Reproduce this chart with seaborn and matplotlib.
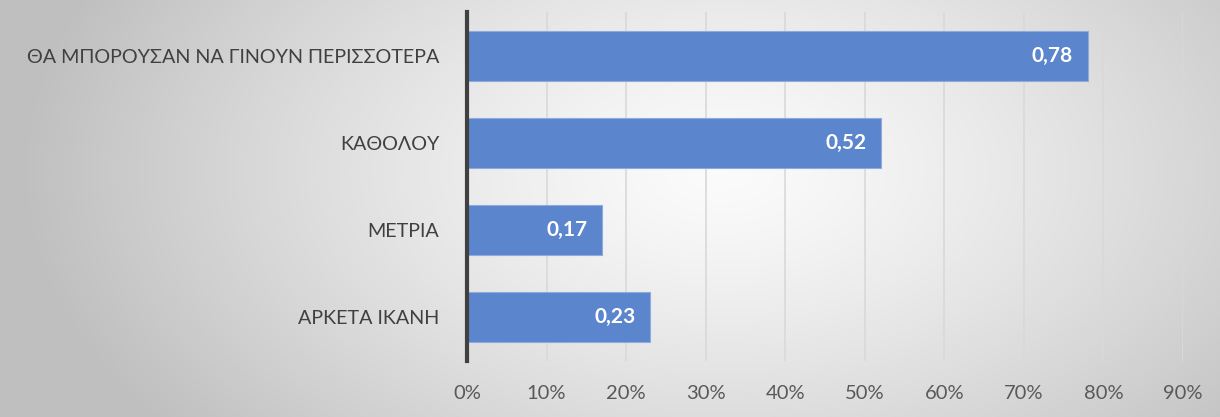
import numpy as np
import pandas as pd
import matplotlib
matplotlib.use("Agg")
import matplotlib.pyplot as plt
import seaborn as sns

categories = ["ΘΑ ΜΠΟΡΟΥΣΑΝ ΝΑ ΓΙΝΟΥΝ ΠΕΡΙΣΣΟΤΕΡΑ", "ΚΑΘΟΛΟΥ", "ΜΕΤΡΙΑ", "ΑΡΚΕΤΑ ΙΚΑΝΗ"]
values = [0.78, 0.52, 0.17, 0.23]
value_labels = ["0,78", "0,52", "0,17", "0,23"]
xticks = [0, 0.1, 0.2, 0.3, 0.4, 0.5, 0.6, 0.7, 0.8, 0.9]
xtick_labels = ["0%", "10%", "20%", "30%", "40%", "50%", "60%", "70%", "80%", "90%"]

sns.set_theme(style="white")
plt.rcParams['font.family'] = ['Lato', 'DejaVu Sans']

W, H = 1220, 417
fig = plt.figure(figsize=(W / 100, H / 100), dpi=100)

# radial gradient background
bg = fig.add_axes([0, 0, 1, 1], zorder=0)
yy, xx = np.mgrid[0:H, 0:W]
cx, cy = 720, 170
r = np.sqrt(((xx - cx) / 700.0) ** 2 + ((yy - cy) / 420.0) ** 2)
r = np.clip(r, 0, 1)
g = 0.985 - 0.235 * r ** 1.3
img = np.dstack([g, g, g])
bg.imshow(img, extent=[0, 1, 0, 1], aspect="auto", origin="upper")
bg.axis("off")

ax = fig.add_axes([467 / W, 1 - 361 / H, (1183 - 467) / W, (361 - 12) / H], zorder=1)
ax.patch.set_alpha(0)

df = pd.DataFrame({"cat": categories, "val": values})
sns.barplot(data=df, y="cat", x="val", orient="h", color="#5B85CC", saturation=1,
            width=0.575, edgecolor="#8FAADC", linewidth=0.8, ax=ax, zorder=2)

ax.set_xlim(0, 0.9)
ax.set_xticks(xticks)
ax.set_xticklabels(xtick_labels, fontsize=14.5, color="#595959")
ax.set_ylabel("")
ax.set_xlabel("")
ax.tick_params(axis="y", labelsize=14.2, labelcolor="#404040", length=0, pad=20)
ax.tick_params(axis="x", length=0, pad=17)
ax.grid(axis="x", color="#D9D9D9", linewidth=1.2, zorder=0)
ax.set_axisbelow(True)
for s in ["top", "right", "bottom"]:
    ax.spines[s].set_visible(False)
ax.spines["left"].set_color("#404040")
ax.spines["left"].set_linewidth(3)
ax.spines["left"].set_zorder(3)

for i, (v, lab) in enumerate(zip(values, value_labels)):
    ax.text(v - 0.018, i, lab, ha="right", va="center", color="white",
            fontsize=15, fontweight="bold", zorder=4)

fig.savefig("out.png", dpi=100)
